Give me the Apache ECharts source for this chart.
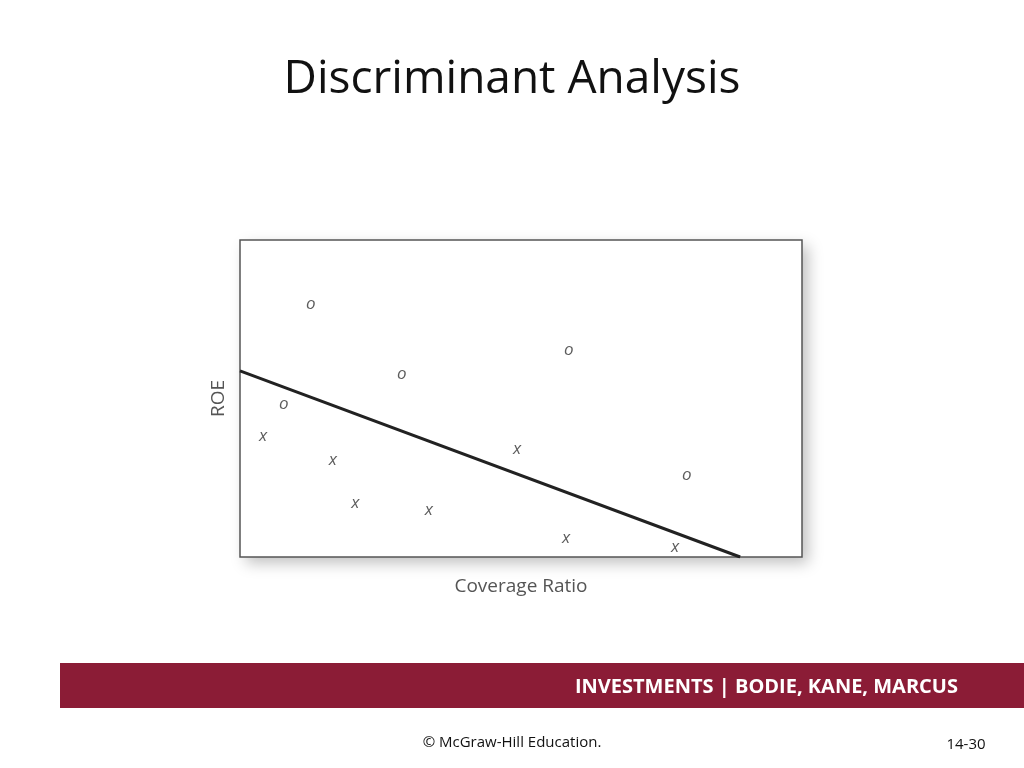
<!DOCTYPE html>
<html><head><meta charset="utf-8">
<script src="https://cdn.jsdelivr.net/npm/echarts@6/dist/echarts.min.js"></script>
<style>html,body{margin:0;padding:0;background:#fff}#c{width:1024px;height:768px}</style>
</head><body><div id="c"></div>
<script>
const oPoints = [[12.6,79.8],[28.8,57.7],[58.5,65.3],[7.8,48.3],[79.5,25.9]];
const xPoints = [[4.1,38.2],[16.5,30.6],[20.5,17.0],[33.6,14.8],[49.3,34.1],[58.0,6.0],[77.4,3.2]];
const boundary = [[0,58.7],[89.0,0]];
const xName = 'Coverage Ratio', yName = 'ROE';

const chart = echarts.init(document.getElementById('c'));
const markLabel = (t) => ({show:true, position:'inside', formatter:t, fontStyle:'italic',
  fontFamily:'Open Sans', fontSize:17, color:'#333'});
chart.setOption({
  animation:false,
  title:{text:'Discriminant Analysis', left:'center', top:52,
    textStyle:{fontFamily:'Open Sans', fontWeight:'normal', fontSize:46, color:'#111'}},
  graphic:[
    {type:'rect', shape:{x:240,y:240,width:562,height:317}, z:-1,
      style:{fill:'#fff', shadowBlur:14, shadowOffsetX:6, shadowOffsetY:6, shadowColor:'rgba(0,0,0,0.25)'}},
    {type:'rect', shape:{x:60,y:663,width:964,height:45}, style:{fill:'#8b1c36'}},
    {type:'text', style:{text:'INVESTMENTS | BODIE, KANE, MARCUS', x:958, y:687, align:'right',
      verticalAlign:'middle', fill:'#fff', font:'bold 20px "Open Sans"'}},
    {type:'text', style:{text:'© McGraw-Hill Education.', x:512, y:743, align:'center',
      verticalAlign:'middle', fill:'#111', font:'15px "Open Sans"'}},
    {type:'text', style:{text:'14-30', x:966, y:745, align:'center',
      verticalAlign:'middle', fill:'#111', font:'15px "Open Sans"'}}
  ],
  grid:{left:240, top:240, width:562, height:317, show:true, borderColor:'#555', borderWidth:1.5, backgroundColor:'#fff'},
  xAxis:{type:'value', min:0, max:100, name:xName, nameLocation:'middle', nameGap:20,
    nameTextStyle:{fontFamily:'Open Sans', fontSize:19, color:'#555'},
    axisLine:{show:false}, axisTick:{show:false}, axisLabel:{show:false}, splitLine:{show:false}},
  yAxis:{type:'value', min:0, max:100, name:yName, nameLocation:'middle', nameGap:12,
    nameTextStyle:{fontFamily:'Open Sans', fontSize:19, color:'#555'},
    axisLine:{show:false}, axisTick:{show:false}, axisLabel:{show:false}, splitLine:{show:false}},
  series:[
    {type:'scatter', data:oPoints, symbolSize:1, itemStyle:{color:'transparent'}, label:markLabel('o')},
    {type:'scatter', data:xPoints, symbolSize:1, itemStyle:{color:'transparent'}, label:markLabel('x')},
    {type:'line', data:boundary, symbol:'none', lineStyle:{color:'#222', width:3}}
  ]
});
</script></body></html>
